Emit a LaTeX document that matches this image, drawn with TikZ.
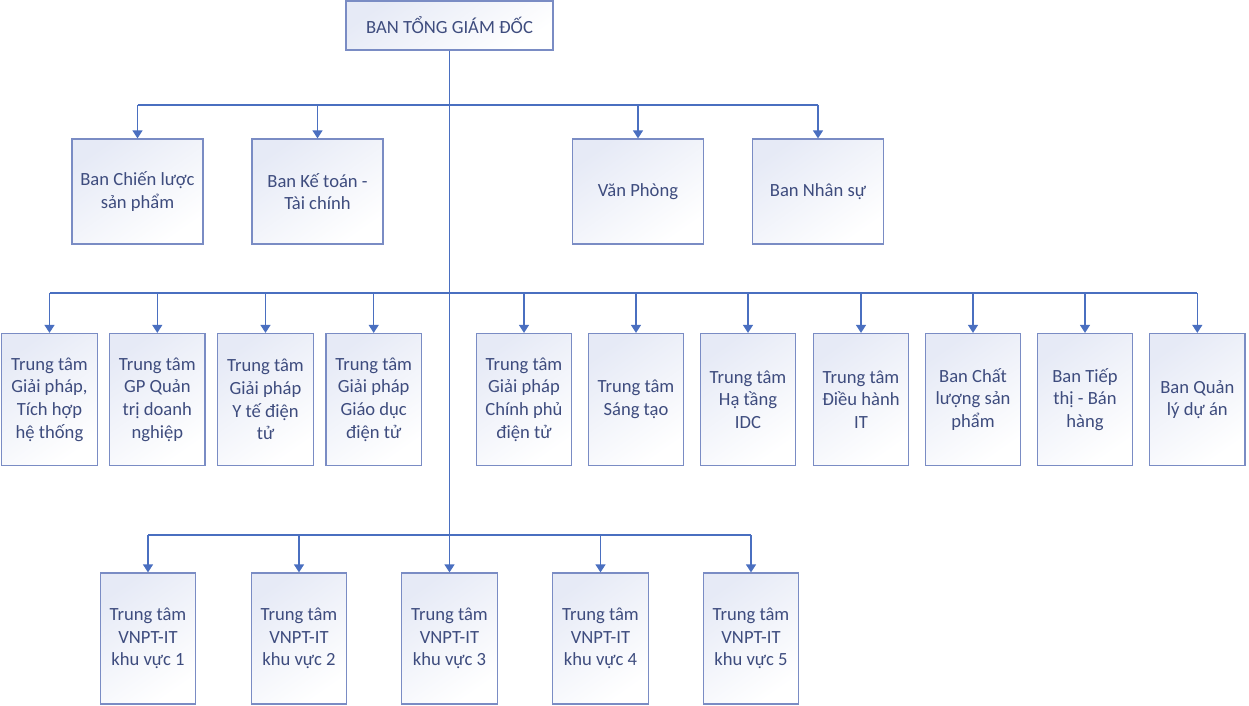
\documentclass[tikz,border=0pt]{standalone}
\usepackage{fontspec}
\setmainfont{Carlito}
\usetikzlibrary{arrows.meta}
\definecolor{txt}{HTML}{3E4C7E}
\definecolor{bord}{HTML}{7A8CC4}
\definecolor{conn}{HTML}{4A6FC0}
\definecolor{shadetop}{HTML}{E6EAF6}
\tikzset{
  box/.style={draw=bord, line width=1.2pt, top color=shadetop, bottom color=white, shading angle=35,
    inner sep=0pt, align=center, text=txt,
    font=\fontsize{18.6}{22.7}\selectfont},
  wbox/.style={box, minimum width=131pt, minimum height=105pt},
  nbox/.style={box, minimum width=95.5pt, minimum height=132pt},
  line/.style={draw=conn, line width=1.2pt},
  arr/.style={line, -{Triangle[length=8pt,width=10pt]}},
}
\begin{document}
\begin{tikzpicture}[x=1pt,y=-1pt]
\useasboundingbox (0,0) rectangle (1249,706);
\node[box, minimum width=207pt, minimum height=49pt] (top) at (449.5,25.5) {BAN TỔNG GIÁM ĐỐC};
% row 1
\node[wbox] (a1) at (137.5,191.5) {Ban Chiến lược\\sản phẩm};
\node[wbox] (a2) at (317.5,191.5) {Ban Kế toán -\\Tài chính};
\node[wbox] (a3) at (638,191.5) {Văn Phòng};
\node[wbox] (a4) at (818,191.5) {Ban Nhân sự};
% row 2
\node[nbox] (b1) at (49.5,399.5) {Trung tâm\\Giải pháp,\\Tích hợp\\hệ thống};
\node[nbox] (b2) at (157.3,399.5) {Trung tâm\\GP Quản\\trị doanh\\nghiệp};
\node[nbox] (b3) at (265.5,399.5) {Trung tâm\\Giải pháp\\Y tế điện\\tử};
\node[nbox] (b4) at (373.7,399.5) {Trung tâm\\Giải pháp\\Giáo dục\\điện tử};
\node[nbox] (b5) at (524,399.5) {Trung tâm\\Giải pháp\\Chính phủ\\điện tử};
\node[nbox] (b6) at (636,399.5) {Trung tâm\\Sáng tạo};
\node[nbox] (b7) at (748,399.5) {Trung tâm\\Hạ tầng\\IDC};
\node[nbox] (b8) at (861,399.5) {Trung tâm\\Điều hành\\IT};
\node[nbox] (b9) at (973,399.5) {Ban Chất\\lượng sản\\phẩm};
\node[nbox] (b10) at (1085,399.5) {Ban Tiếp\\thị - Bán\\hàng};
\node[nbox] (b11) at (1197.3,399.5) {Ban Quản\\lý dự án};
% row 3
\node[nbox, minimum height=131pt] (c1) at (148,638.5) {Trung tâm\\VNPT-IT\\khu vực 1};
\node[nbox, minimum height=131pt] (c2) at (299,638.5) {Trung tâm\\VNPT-IT\\khu vực 2};
\node[nbox, minimum height=131pt] (c3) at (449.5,638.5) {Trung tâm\\VNPT-IT\\khu vực 3};
\node[nbox, minimum height=131pt] (c4) at (600.5,638.5) {Trung tâm\\VNPT-IT\\khu vực 4};
\node[nbox, minimum height=131pt] (c5) at (751,638.5) {Trung tâm\\VNPT-IT\\khu vực 5};
% buses
\coordinate (bus1) at (449.5,105);
\coordinate (bus2) at (449.5,293);
\coordinate (bus3) at (449.5,535);
\draw[arr] (top.south) -- (c3.north);
\draw[line] (a1.north |- bus1) -- (a4.north |- bus1);
\foreach \n in {a1,a2,a3,a4} \draw[arr] (\n.north |- bus1) -- (\n.north);
\draw[line] (b1.north |- bus2) -- (b11.north |- bus2);
\foreach \n in {b1,b2,b3,b4,b5,b6,b7,b8,b9,b10,b11} \draw[arr] (\n.north |- bus2) -- (\n.north);
\draw[line] (c1.north |- bus3) -- (c5.north |- bus3);
\foreach \n in {c1,c2,c4,c5} \draw[arr] (\n.north |- bus3) -- (\n.north);
\end{tikzpicture}
\end{document}
